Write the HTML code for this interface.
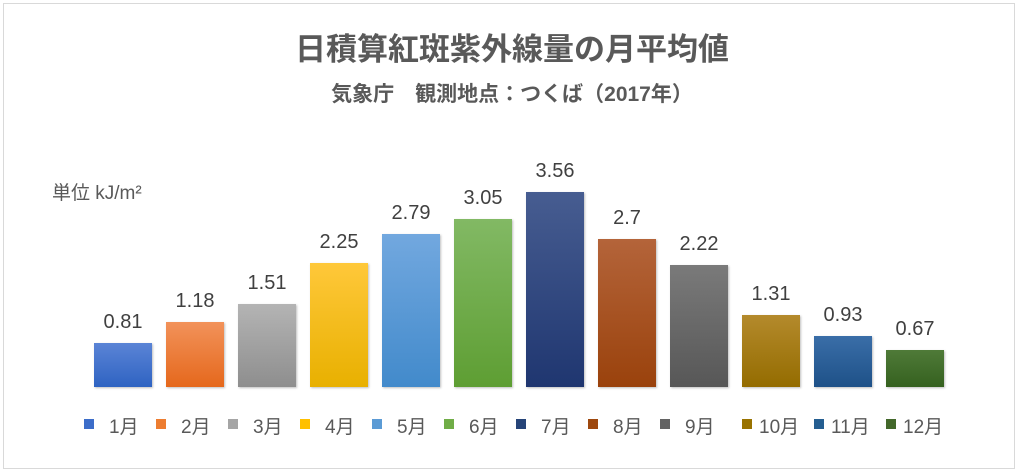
<!DOCTYPE html>
<html><head><meta charset="utf-8"><style>
body{margin:0;background:#fff;}
#c{position:relative;width:1024px;height:476px;overflow:hidden;font-family:"Liberation Sans","Noto Sans CJK JP",sans-serif;color:#595959;}
.frame{position:absolute;left:3px;top:3px;width:1010px;height:464px;border:1px solid #d9d9d9;}
.t{position:absolute;left:0;width:1024px;text-align:center;font-weight:bold;white-space:nowrap;}
.bar{position:absolute;width:58px;box-shadow:1px 1px 2px rgba(0,0,0,0.25);}
.lab{position:absolute;width:92px;text-align:center;font-size:20px;color:#404040;}
.sq{position:absolute;top:419px;width:10px;height:10px;}
.lt{position:absolute;top:412px;font-size:19px;}
</style></head><body><div id="c">
<div class="frame"></div>
<div class="t" style="top:24px;font-size:31px;">日積算紅斑紫外線量の月平均値</div>
<div class="t" style="top:78px;font-size:21px;">気象庁　観測地点：つくば（2017年）</div>
<div style="position:absolute;left:52px;top:178px;font-size:19px;">単位 kJ/m²</div>
<div class="bar" style="left:94px;top:343px;height:44px;background:linear-gradient(#5b84d6,#2e63c2)"></div>
<div class="bar" style="left:166px;top:322px;height:65px;background:linear-gradient(#f2925a,#e5681c)"></div>
<div class="bar" style="left:238px;top:304px;height:83px;background:linear-gradient(#b4b4b4,#8e8e8e)"></div>
<div class="bar" style="left:310px;top:263px;height:124px;background:linear-gradient(#ffc83a,#e8b000)"></div>
<div class="bar" style="left:382px;top:234px;height:153px;background:linear-gradient(#72a8df,#428acb)"></div>
<div class="bar" style="left:454px;top:219px;height:168px;background:linear-gradient(#82b964,#5e9e33)"></div>
<div class="bar" style="left:526px;top:192px;height:195px;background:linear-gradient(#475d91,#1f3670)"></div>
<div class="bar" style="left:598px;top:239px;height:148px;background:linear-gradient(#b4643a,#9a420c)"></div>
<div class="bar" style="left:670px;top:265px;height:122px;background:linear-gradient(#7a7a7a,#575757)"></div>
<div class="bar" style="left:742px;top:315px;height:72px;background:linear-gradient(#b48a2c,#946c00)"></div>
<div class="bar" style="left:814px;top:336px;height:51px;background:linear-gradient(#3a6ea8,#1e5188)"></div>
<div class="bar" style="left:886px;top:350px;height:37px;background:linear-gradient(#4f7a38,#35611f)"></div>
<div class="lab" style="left:77px;top:311px">0.81</div>
<div class="lab" style="left:149px;top:290px">1.18</div>
<div class="lab" style="left:221px;top:272px">1.51</div>
<div class="lab" style="left:293px;top:231px">2.25</div>
<div class="lab" style="left:365px;top:202px">2.79</div>
<div class="lab" style="left:437px;top:187px">3.05</div>
<div class="lab" style="left:509px;top:160px">3.56</div>
<div class="lab" style="left:581px;top:207px">2.7</div>
<div class="lab" style="left:653px;top:233px">2.22</div>
<div class="lab" style="left:725px;top:283px">1.31</div>
<div class="lab" style="left:797px;top:304px">0.93</div>
<div class="lab" style="left:869px;top:318px">0.67</div>
<div class="sq" style="left:84px;background:#3c6dc9"></div><div class="lt" style="left:109px">1月</div>
<div class="sq" style="left:156px;background:#ed7d31"></div><div class="lt" style="left:181px">2月</div>
<div class="sq" style="left:228px;background:#a5a5a5"></div><div class="lt" style="left:253px">3月</div>
<div class="sq" style="left:300px;background:#ffc000"></div><div class="lt" style="left:325px">4月</div>
<div class="sq" style="left:372px;background:#5b9bd5"></div><div class="lt" style="left:397px">5月</div>
<div class="sq" style="left:444px;background:#70ad47"></div><div class="lt" style="left:469px">6月</div>
<div class="sq" style="left:516px;background:#264478"></div><div class="lt" style="left:541px">7月</div>
<div class="sq" style="left:588px;background:#9e480e"></div><div class="lt" style="left:613px">8月</div>
<div class="sq" style="left:660px;background:#636363"></div><div class="lt" style="left:685px">9月</div>
<div class="sq" style="left:742px;background:#997300"></div><div class="lt" style="left:759px">10月</div>
<div class="sq" style="left:814px;background:#255e91"></div><div class="lt" style="left:831px">11月</div>
<div class="sq" style="left:886px;background:#43682b"></div><div class="lt" style="left:903px">12月</div>
</div></body></html>
